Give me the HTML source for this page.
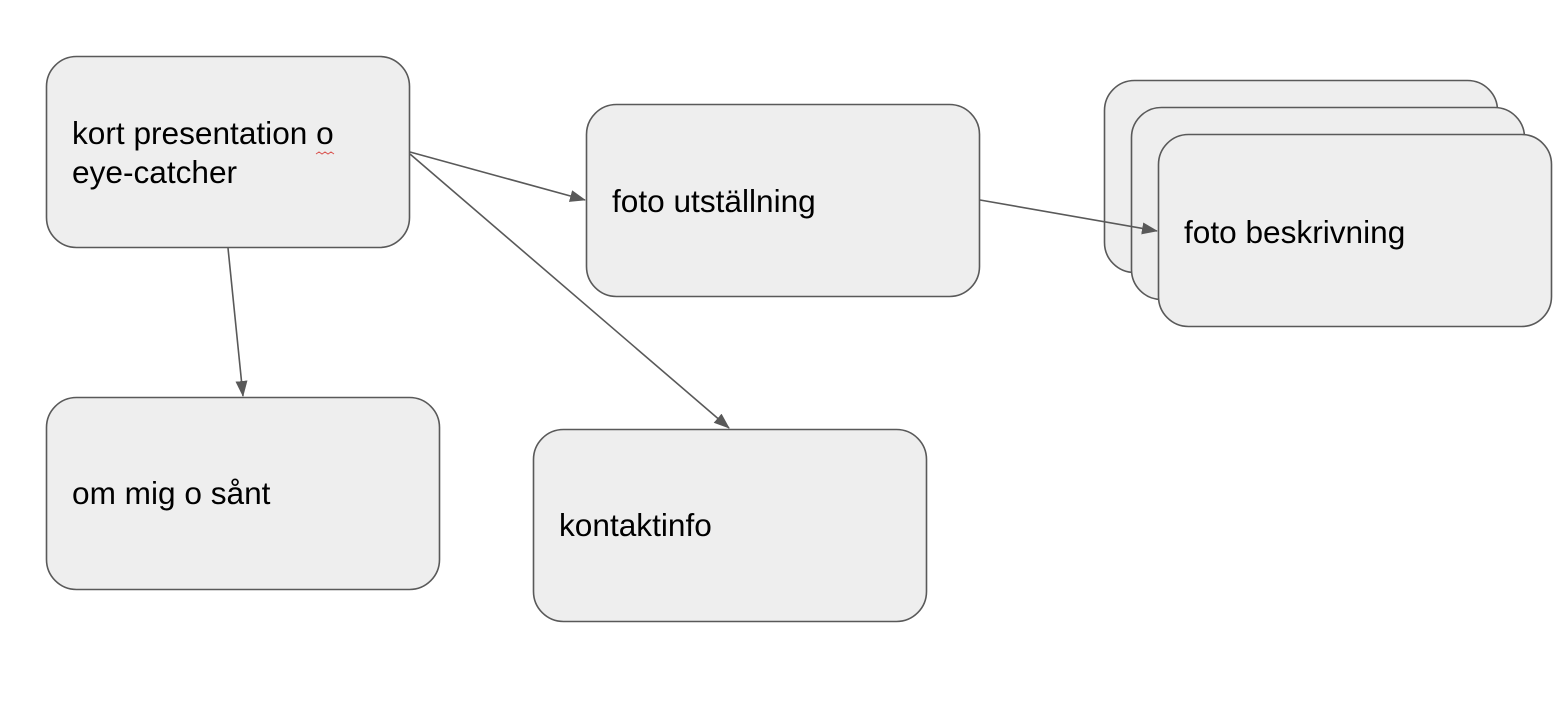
<!DOCTYPE html>
<html><head><meta charset="utf-8"><style>html,body{margin:0;padding:0;background:#fff}svg{display:block}</style></head>
<body>
<svg width="1568" height="708" viewBox="0 0 1568 708" xmlns="http://www.w3.org/2000/svg">
<defs><marker id="a" markerWidth="16" markerHeight="12" refX="15" refY="6" orient="auto" markerUnits="userSpaceOnUse"><path d="M0,0 L16,6 L0,12 z" fill="#595959"/></marker></defs>
<g fill="#eeeeee" stroke="#595959" stroke-width="1.6">
<rect x="46.5" y="56.5" width="363" height="191" rx="30"/>
<rect x="586.5" y="104.5" width="393" height="192" rx="30"/>
<rect x="1104.5" y="80.5" width="393" height="192" rx="30"/>
<rect x="1131.5" y="107.5" width="393" height="192" rx="30"/>
<rect x="1158.5" y="134.5" width="393" height="192" rx="30"/>
<rect x="46.5" y="397.5" width="393" height="192" rx="30"/>
<rect x="533.5" y="429.5" width="393" height="192" rx="30"/>
</g>
<g stroke="#595959" stroke-width="1.6" fill="none">
<line x1="410" y1="152" x2="585" y2="200" marker-end="url(#a)"/>
<line x1="410" y1="154" x2="729" y2="428" marker-end="url(#a)"/>
<line x1="228" y1="248" x2="243" y2="396" marker-end="url(#a)"/>
<line x1="980" y1="200" x2="1157" y2="231" marker-end="url(#a)"/>
</g>
<path d="M316,154 l3,-2 l3,2 l3,-2 l3,2 l3,-2 l3,2" stroke="#d9534f" fill="none" stroke-width="1"/>
<g font-family="Liberation Sans, Arial, sans-serif" font-size="31.6" fill="#000">
<text x="72" y="144">kort presentation o</text>
<text x="72" y="183">eye-catcher</text>
<text x="612" y="212">foto utställning</text>
<text x="1184" y="243">foto beskrivning</text>
<text x="72" y="504">om mig o sånt</text>
<text x="559" y="536">kontaktinfo</text>
</g>
</svg>
</body></html>
